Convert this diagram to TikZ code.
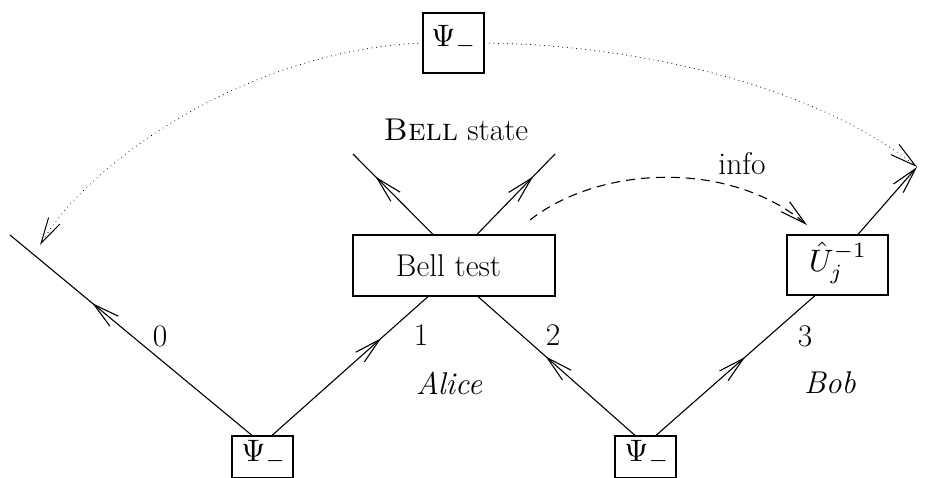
\documentclass[tikz,border=0pt]{standalone}
\usetikzlibrary{arrows.meta,decorations.markings,calc}
\newcommand{\bigmath}[1]{\scalebox{3.1}{\normalsize$#1$}}
\begin{document}
\begin{tikzpicture}[x=1pt,y=-1pt,
  every node/.style={font=\fontsize{31.5}{38}\selectfont},
  ln/.style={line width=1.1pt},
  box/.style={draw,line width=1.2pt,inner sep=0pt},
  >={Straight Barb[length=26pt,width=13pt]},
  arrowat/.style={postaction={decorate,decoration={markings,mark=at position #1 with {\arrow{>}}}}},
  dots/.style={line width=1pt,dash pattern=on 0.1pt off 4.5pt,line cap=round},
  dashes/.style={line width=1.1pt,dash pattern=on 9pt off 6pt}]
\useasboundingbox (0,0) rectangle (927,477);
\clip (0,0) rectangle (927,477);
% boxes
\node[box,minimum width=61pt,minimum height=60pt] (top) at (453.5,43) {};
\node[box,minimum width=61pt,minimum height=42pt] (bl) at (262.5,457) {};
\node[box,minimum width=61pt,minimum height=42pt] (bm) at (645.5,457) {};
\node[box,minimum width=202pt,minimum height=61pt] (bell) at (454,265.5) {};
\node[box,minimum width=101pt,minimum height=60pt] (U) at (837.5,265) {};
% box texts
\node (ttop) at (454,40) {\bigmath{\Psi_-}};
\node (tbl) at (264,455) {\bigmath{\Psi_-}};
\node (tbm) at (647,455) {\bigmath{\Psi_-}};
\node (tbell) at (448.5,266) {Bell test};
\node (tU) at (838,263) {\bigmath{\hat U_j^{-1}}};
% free ends
\coordinate (e0) at (10,235);
\coordinate (e1) at (353,154);
\coordinate (e2) at (555,154);
\coordinate (e3) at (917,167);
\coordinate (d0) at (40,245);
\coordinate (da) at (530,220);
\coordinate (db) at (807,225);
% particle lines
\draw[ln,arrowat=0.66] ($(bl.north)+(-10.5,0)$) -- (e0);
\draw[ln,arrowat=0.7] ($(bl.north)+(9.5,0)$) -- ($(bell.south)+(-26,0)$);
\draw[ln,arrowat=0.57] ($(bm.north)+(-10.5,0)$) -- ($(bell.south)+(24,0)$);
\draw[ln,arrowat=0.56] ($(bm.north)+(10.5,0)$) -- ($(U.south)+(-22.5,0)$);
\draw[ln,arrowat=0.72] ($(bell.north)+(-21,0)$) -- (e1);
\draw[ln,arrowat=0.72] ($(bell.north)+(23,0)$) -- (e2);
\draw[ln,->] ($(U.north)+(20.5,0)$) -- (e3);
% dotted and dashed
\draw[dots,->] (top.west) .. controls (250,50) and (90,160) .. (d0);
\draw[dots,->] (top.east) .. controls (650,45) and (820,90) .. (e3);
\draw[dashes,->] (da) .. controls (600,165) and (730,160) .. (db);
% labels
\node (l0) at (160,336) {0};
\node (l1) at (421,335) {1};
\node (l2) at (553,335) {2};
\node (l3) at (805,336) {3};
\node (alice) at (449,383) {\itshape Alice};
\node (bob) at (830,383) {\itshape Bob};
\node (info) at (742,164) {info};
\node (bs) at (456,130) {\textsc{Bell} state};
\end{tikzpicture}
\end{document}
